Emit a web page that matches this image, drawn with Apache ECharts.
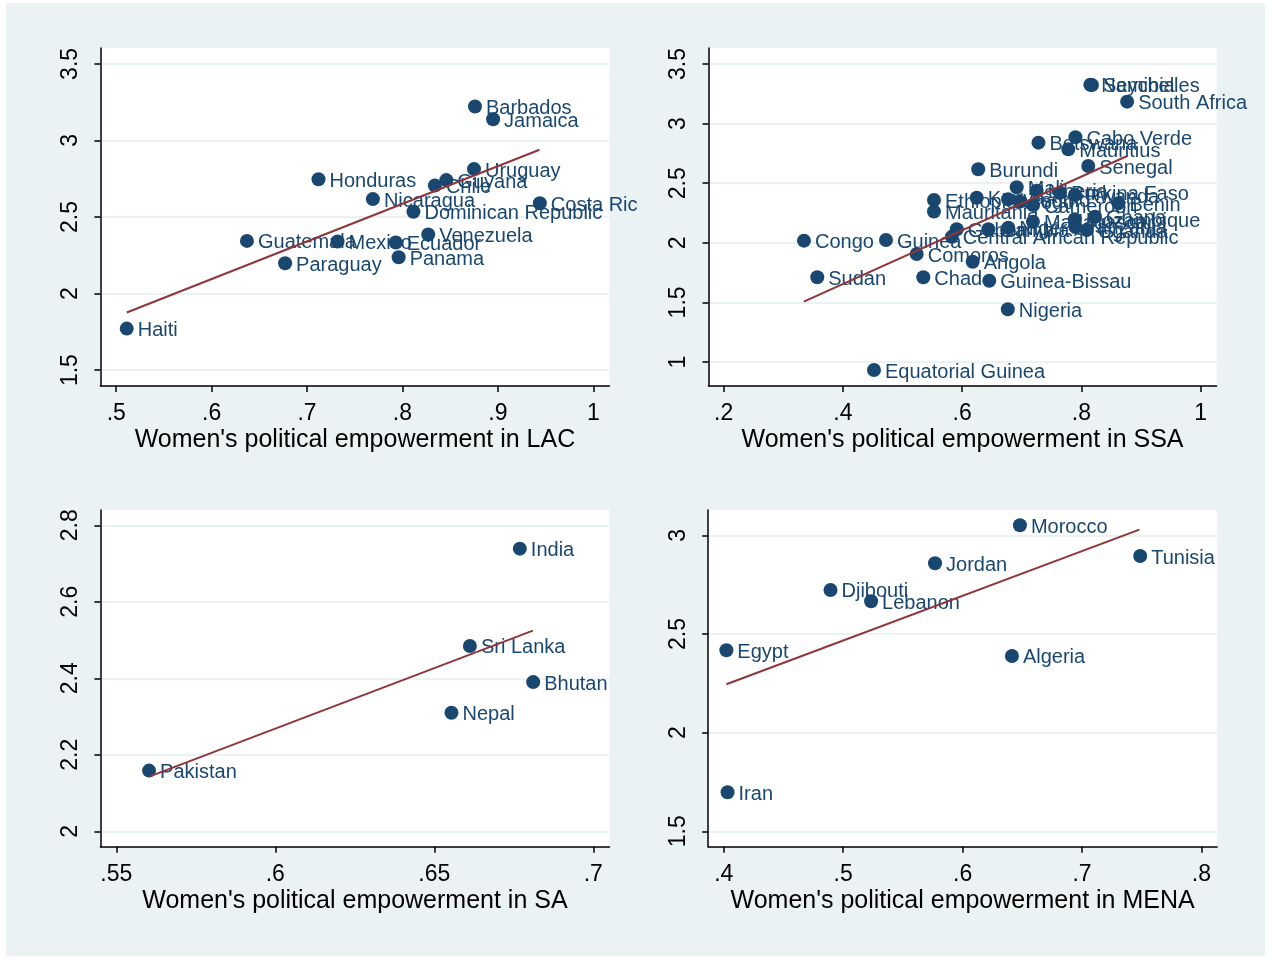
<!DOCTYPE html>
<html>
<head>
<meta charset="utf-8">
<script src="https://cdn.jsdelivr.net/npm/echarts@6/dist/echarts.min.js"></script>
<style>
html,body{margin:0;padding:0;background:#ffffff;}
#chart{width:1272px;height:960px;}
</style>
</head>
<body>
<div id="chart"></div>
<script>
// ---------- DATA ----------
const lacCountries = ['Barbados','Jamaica','Uruguay','Guyana','Chile','Honduras','Nicaragua','Costa Rica','Dominican Republic','Venezuela','Guatemala','Mexico','Ecuador','Panama','Paraguay','Haiti'];
const lacEmpowerment = [0.876,0.895,0.875,0.846,0.834,0.712,0.769,0.944,0.8115,0.827,0.637,0.732,0.793,0.796,0.677,0.511];
const lacOutcome = [3.222,3.139,2.813,2.741,2.706,2.747,2.617,2.590,2.534,2.386,2.344,2.340,2.333,2.237,2.198,1.771];
const lacFitX = [0.511,0.9436];
const lacFitY = [1.876,2.939];

const ssaCountries = ['Seychelles','Namibia','South Africa','Cabo Verde','Botswana','Mauritius','Burundi','Senegal','Mali','Liberia','Burkina Faso','Rwanda','Kenya','Ethiopia','Lesotho','Togo','Cameroon','Benin','Mauritania','Madagascar','Mozambique','Ghana','Uganda','Tanzania','Gabon','Gambia','Niger','Central African Republic','Congo','Guinea','Comoros','Angola','Sudan','Chad','Guinea-Bissau','Nigeria','Equatorial Guinea'];
const ssaEmpowerment = [0.8177,0.815,0.8767,0.790,0.728,0.778,0.627,0.8115,0.6915,0.725,0.764,0.789,0.6244,0.5528,0.677,0.697,0.719,0.862,0.5528,0.7187,0.789,0.8228,0.809,0.790,0.591,0.644,0.6774,0.5826,0.3348,0.4723,0.5238,0.6177,0.3571,0.5349,0.6455,0.6766,0.4522];
const ssaOutcome = [3.324,3.326,3.184,2.885,2.840,2.784,2.617,2.644,2.466,2.437,2.420,2.401,2.378,2.359,2.365,2.345,2.317,2.331,2.263,2.177,2.197,2.219,2.107,2.133,2.113,2.113,2.127,2.05,2.018,2.023,1.906,1.841,1.711,1.711,1.682,1.442,0.933];
const ssaFitX = [0.3345,0.8767];
const ssaFitY = [1.506,2.728];

const saCountries = ['India','Sri Lanka','Bhutan','Nepal','Pakistan'];
const saEmpowerment = [0.6769,0.6612,0.6811,0.6554,0.5603];
const saOutcome = [2.739,2.4845,2.390,2.310,2.1586];
const saFitX = [0.5603,0.681];
const saFitY = [2.143,2.5246];

const menaCountries = ['Morocco','Tunisia','Jordan','Djibouti','Lebanon','Egypt','Algeria','Iran'];
const menaEmpowerment = [0.648,0.7487,0.5769,0.4894,0.5234,0.4022,0.6413,0.4032];
const menaOutcome = [3.0507,2.895,2.858,2.723,2.6655,2.417,2.3885,1.6976];
const menaFitX = [0.4022,0.748];
const menaFitY = [2.245,3.0287];

const lacXTicks = [0.5,0.6,0.7,0.8,0.9,1];
const lacYTicks = [1.5,2,2.5,3,3.5];
const ssaXTicks = [0.2,0.4,0.6,0.8,1];
const ssaYTicks = [1,1.5,2,2.5,3,3.5];
const saXTicks = [0.55,0.6,0.65,0.7];
const saYTicks = [2,2.2,2.4,2.6,2.8];
const menaXTicks = [0.4,0.5,0.6,0.7,0.8];
const menaYTicks = [1.5,2,2.5,3];

const axisTitles = ["Women's political empowerment in LAC","Women's political empowerment in SSA","Women's political empowerment in SA","Women's political empowerment in MENA"];

// ---------- STYLE / LAYOUT ----------
const FONT = 'Liberation Sans, Arial, Helvetica, sans-serif';
const NAVY = '#1a476f';
const FIT = '#90353b';
const BG = '#eaf2f3';

function fmt(v){ let s = String(+(+v).toFixed(4)); return s.replace(/^0\./,'.'); }

const panels = [
  {names: lacCountries, xs: lacEmpowerment, ys: lacOutcome, fx: lacFitX, fy: lacFitY, xt: lacXTicks, yt: lacYTicks,
   grid:{left:100.4, top:48, width:509.1, height:338}, xr:[0.4834,1.017], yr:[1.396,3.604]},
  {names: ssaCountries, xs: ssaEmpowerment, ys: ssaOutcome, fx: ssaFitX, fy: ssaFitY, xt: ssaXTicks, yt: ssaYTicks,
   grid:{left:708.5, top:48, width:508.1, height:338}, xr:[0.1747,1.0267], yr:[0.7987,3.634]},
  {names: saCountries, xs: saEmpowerment, ys: saOutcome, fx: saFitX, fy: saFitY, xt: saXTicks, yt: saYTicks,
   grid:{left:100.4, top:510, width:509.1, height:336.7}, xr:[0.545,0.7051], yr:[1.9597,2.840]},
  {names: menaCountries, xs: menaEmpowerment, ys: menaOutcome, fx: menaFitX, fy: menaFitY, xt: menaXTicks, yt: menaYTicks,
   grid:{left:708.1, top:510, width:509, height:336.7}, xr:[0.3869,0.8131], yr:[1.422,3.128]}
];

const grids = [], xAxes = [], yAxes = [], series = [];
panels.forEach((p, i) => {
  grids.push(Object.assign({show:true, backgroundColor:'#ffffff', borderWidth:0, containLabel:false}, p.grid));
  xAxes.push({
    type:'value', gridIndex:i, min:p.xr[0], max:p.xr[1],
    name: axisTitles[i], nameLocation:'middle', nameGap:42,
    nameTextStyle:{color:'#000', fontSize:25, fontFamily:FONT, verticalAlign:'top'},
    axisLine:{show:true, onZero:false, lineStyle:{color:'#000', width:1.5}},
    axisTick:{show:true, length:6, customValues:p.xt, lineStyle:{color:'#000', width:1.5}},
    axisLabel:{customValues:p.xt, formatter:fmt, color:'#000', fontSize:23, fontFamily:FONT, margin:16},
    splitLine:{show:false}
  });
  yAxes.push({
    type:'value', gridIndex:i, min:p.yr[0], max:p.yr[1],
    axisLine:{show:true, onZero:false, lineStyle:{color:'#000', width:1.5}},
    axisTick:{show:true, length:6, customValues:p.yt, lineStyle:{color:'#000', width:1.5}},
    axisLabel:{customValues:p.yt, formatter:fmt, rotate:90, color:'#000', fontSize:23, fontFamily:FONT, margin:18},
    splitLine:{show:true, lineStyle:{color:BG, width:2}}
  });
  series.push({
    type:'scatter', xAxisIndex:i, yAxisIndex:i, z:2,
    symbol:'circle', symbolSize:14,
    itemStyle:{color:NAVY, opacity:1},
    label:{show:true, position:'right', distance:4, formatter:'{b}', color:NAVY, fontSize:20, fontFamily:FONT, offset:[0,2]},
    emphasis:{disabled:true},
    data: p.names.map((n, k) => ({name:n, value:[p.xs[k], p.ys[k]]}))
  });
  series.push({
    type:'line', xAxisIndex:i, yAxisIndex:i, z:5,
    showSymbol:false, symbol:'none', silent:true,
    lineStyle:{color:FIT, width:2},
    data: p.fx.map((x, k) => [x, p.fy[k]])
  });
});

const chart = echarts.init(document.getElementById('chart'), null, {renderer:'canvas'});
chart.setOption({
  backgroundColor:'#ffffff',
  animation:false,
  graphic:[
    {type:'rect', left:6, top:3, shape:{width:1259, height:953}, style:{fill:BG}, z:-10, silent:true},
    {type:'rect', left:637, top:40, shape:{width:18, height:360}, style:{fill:BG}, z:100, silent:true}
  ],
  grid: grids, xAxis: xAxes, yAxis: yAxes, series: series
});
</script>
</body>
</html>
